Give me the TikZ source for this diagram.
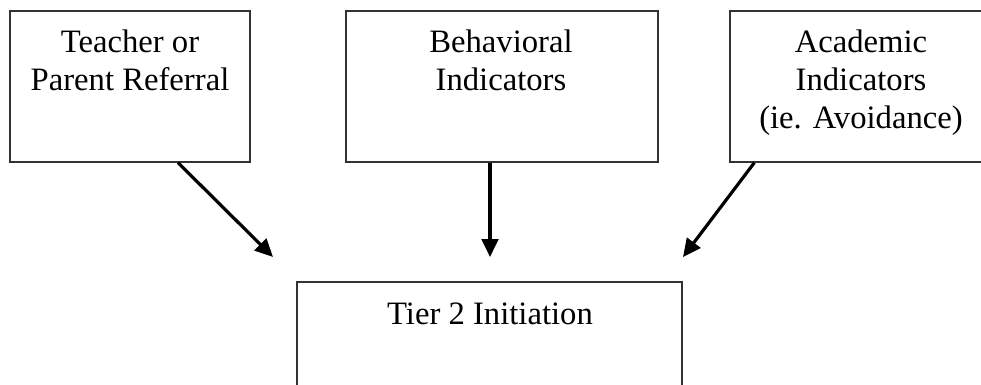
\documentclass[tikz,border=0pt]{standalone}
\usepackage{fontspec}
\setmainfont{Liberation Serif}
\usetikzlibrary{arrows.meta,calc}
\begin{document}
\begin{tikzpicture}[x=0.75pt,y=-0.75pt,
  box/.style={draw=black!80, line width=1pt, rectangle, inner sep=0pt, fill=none},
  lbl/.style={anchor=north, inner sep=0pt, align=center, font=\fontsize{24.5}{28.5}\selectfont},
  arr/.style={line width=2.4pt, -{Triangle[length=13.5pt,width=12.5pt]}}]
\useasboundingbox (0,0) rectangle (981,385);
\clip (0,0) rectangle (981,385);
% boxes
\node[box, minimum width=0.75*240pt, minimum height=0.75*151pt] (b1) at (130,86.5) {};
\node[box, minimum width=0.75*312pt, minimum height=0.75*151pt] (b2) at (502,86.5) {};
\node[box, minimum width=0.75*262pt, minimum height=0.75*151pt] (b3) at (861,86.5) {};
\node[box, minimum width=0.75*385pt, minimum height=0.75*130pt] (b4) at (489.5,347) {};
% texts
\node[lbl] (t1) at (130,30) {Teacher or\\Parent Referral};
\node[lbl] (t2) at (501,30) {Behavioral\\Indicators};
\node[lbl] (t3) at (861,30) {Academic\\Indicators\\(ie. Avoidance)};
\node[lbl] (t4) at (490,303) {Tier 2 Initiation};
% arrow ends
\coordinate (e1) at (273,257);
\coordinate (e2) at (490,257);
\coordinate (e3) at (683,257);
\draw[arr] ($(b1.south)+(48,0)$) -- (e1);
\draw[arr] ($(b2.south)+(-12,0)$) -- (e2);
\draw[arr] ($(b3.south west)+(25,0)$) -- (e3);
\end{tikzpicture}
\end{document}
